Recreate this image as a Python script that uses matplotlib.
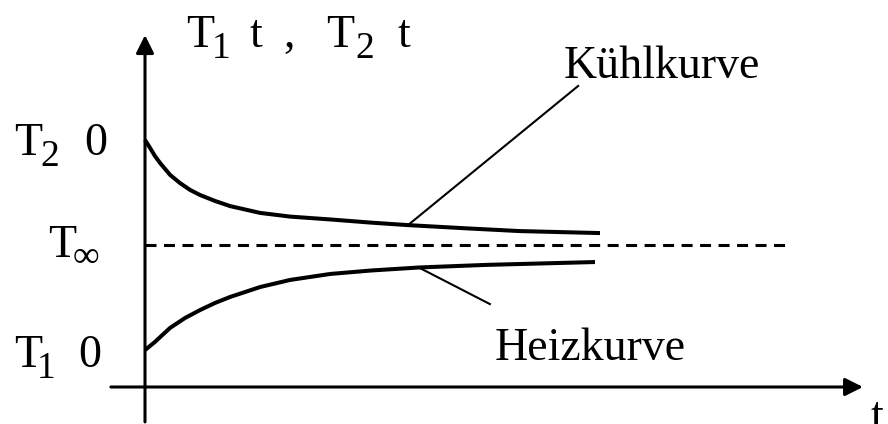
import matplotlib
matplotlib.use("Agg")
import matplotlib.pyplot as plt

plt.rcParams['font.family'] = ['Liberation Serif', 'DejaVu Serif']

# cooling curve T2(t), starts hot and falls towards T_inf
t_cool = [0.0, 0.11, 0.22, 0.33, 0.55, 0.77, 0.99, 1.21, 1.54, 1.87, 2.53,
          3.19, 4.07, 4.95, 5.78, 7.14, 8.24, 10.0]
T_cool = [87.0, 84.2, 81.3, 78.9, 74.7, 71.8, 69.4, 67.6, 65.5, 63.7, 61.3,
          60.0, 59.0, 57.9, 57.0, 55.8, 54.9, 54.2]

# heating curve T1(t), starts cold and rises towards T_inf
t_heat = [0.0, 0.22, 0.55, 0.88, 1.21, 1.54, 1.87, 2.53, 3.19, 4.07, 4.95,
          6.04, 7.51, 9.89]
T_heat = [13.0, 15.9, 20.8, 24.3, 27.1, 29.6, 31.7, 35.2, 37.7, 39.8, 41.0,
          42.1, 43.0, 44.0]

# equilibrium temperature
T_inf = 50.0
t_inf_end = 14.18

fig = plt.figure(figsize=(8.88, 4.24), dpi=100)
ax = fig.add_axes([0, 0, 1, 1])
ax.set_xlim(-3.187, 16.33)
ax.set_ylim(-13.03, 136.27)
ax.axis('off')

# axes with arrow heads
arrow = dict(arrowstyle='-|>,head_length=0.6,head_width=0.3', mutation_scale=18,
             lw=2.2, color='black', shrinkA=0, shrinkB=0)
ax.annotate('', xy=(15.78, 0), xytext=(-0.75, 0), arrowprops=arrow)
ax.annotate('', xy=(0, 123.9), xytext=(0, -12.3), arrowprops=arrow)

ax.plot(t_cool, T_cool, color='black', lw=2.9, solid_joinstyle='round',
        solid_capstyle='butt')
ax.plot(t_heat, T_heat, color='black', lw=2.9, solid_joinstyle='round',
        solid_capstyle='butt')
ax.plot([0, t_inf_end], [T_inf, T_inf], color='black', lw=2.2,
        linestyle=(0, (3.6, 2.45)))

# leader lines for the curve names
ax.plot([9.52, 5.78], [106.0, 57.0], color='black', lw=1.5)
ax.plot([6.04, 7.58], [41.9, 29.2], color='black', lw=1.5)

fs = 33
fs_sub = 27


def label(x, y, s, size=fs):
    ax.text(x, y, s, fontsize=size, va='baseline', ha='left')


label(9.19, 108.8, 'Kühlkurve')
label(7.69, 9.5, 'Heizkurve')

# axis label T1(t), T2(t)
label(0.90, 119.7, 'T')
label(1.47, 115.8, '1', fs_sub)
label(2.29, 119.7, 't')
label(3.03, 119.7, ',')
label(3.99, 119.7, 'T')
label(4.62, 115.8, '2', fs_sub)
label(5.56, 119.7, 't')

# start values and limit on the temperature axis
label(-2.88, 81.7, 'T')
label(-2.30, 77.8, '2', fs_sub)
label(-1.34, 81.7, '0')

label(-2.13, 45.8, 'T')
label(-1.58, 42.1, '∞', fs_sub)

label(-2.88, 7.04, 'T')
label(-2.38, 3.17, '1', fs_sub)
label(-1.47, 7.04, '0')

label(15.95, -14.8, 't')

fig.savefig('out.png', dpi=100)
